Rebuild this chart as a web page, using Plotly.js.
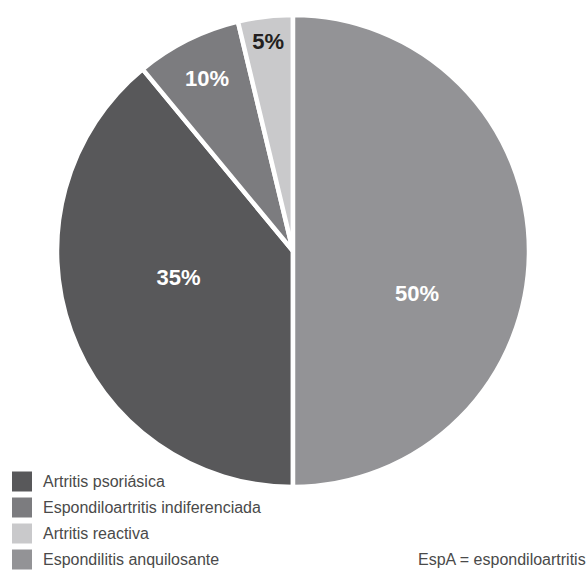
<!DOCTYPE html>
<html>
<head>
<meta charset="utf-8">
<script src="https://cdn.plot.ly/plotly-3.0.1.min.js"></script>
<style>html,body{margin:0;padding:0;background:#fff;}#chart{width:588px;height:578px;}</style>
</head>
<body>
<div id="chart"></div>
<script>
// Data
var categories = ["Artritis psoriásica", "Espondiloartritis indiferenciada", "Artritis reactiva", "Espondilitis anquilosante"];
var sliceValues = [39, 7.25, 3.75, 50];
var sliceLabels = ["35%", "10%", "5%", "50%"];
var sliceColors = ["#58585a", "#7c7c7f", "#c9c9cb", "#939396"];
var labelColors = ["#ffffff", "#ffffff", "#231f20", "#ffffff"];
var footnote = "EspA = espondiloartritis";

var W = 588, H = 578;
var cx = 293, cy = 251, R = 236;

// padding lines (styling only) to nudge label placement inside the large slices
var labelPadBefore = ["", "", "", "&nbsp;<br>&nbsp;<br>&nbsp;<br>&nbsp;&nbsp;"];
var labelPadAfter = ["<br>&nbsp;", "", "", ""];
var sliceText = sliceLabels.map(function (t, i) { return labelPadBefore[i] + t + labelPadAfter[i]; });

var trace = {
  type: "pie",
  labels: categories,
  values: sliceValues,
  text: sliceText,
  textinfo: "text",
  textposition: "inside",
  insidetextorientation: "horizontal",
  sort: false,
  direction: "clockwise",
  rotation: 180,
  hoverinfo: "none",
  marker: { colors: sliceColors, line: { color: "#ffffff", width: 4.5 } },
  textfont: { family: "Liberation Sans, Arial, sans-serif", size: 22, color: labelColors, weight: "bold" },
  insidetextfont: { family: "Liberation Sans, Arial, sans-serif", size: 22, color: labelColors, weight: "bold" },
  domain: { x: [(cx - R) / W, (cx + R) / W], y: [(H - cy - R) / H, (H - cy + R) / H] },
  showlegend: false
};

var shapes = [];
var annotations = [];
var legendTop = 481.5, legendStep = 26;
categories.forEach(function (c, i) {
  var yc = legendTop + i * legendStep;
  shapes.push({
    type: "rect", xref: "paper", yref: "paper",
    x0: 12 / W, x1: 32 / W, y0: 1 - (yc + 10) / H, y1: 1 - (yc - 10) / H,
    fillcolor: sliceColors[i], line: { width: 0 }
  });
  annotations.push({
    xref: "paper", yref: "paper", x: 41 / W, y: 1 - yc / H,
    xanchor: "left", yanchor: "middle", showarrow: false, text: c,
    font: { family: "Liberation Sans, Arial, sans-serif", size: 16, color: "#4a4a4a" }
  });
});
annotations.push({
  xref: "paper", yref: "paper", x: 588 / W, y: 1 - 559 / H,
  xanchor: "right", yanchor: "middle", showarrow: false, text: footnote,
  font: { family: "Liberation Sans, Arial, sans-serif", size: 16, color: "#4a4a4a" }
});

var layout = {
  width: W, height: H,
  margin: { l: 0, r: 0, t: 0, b: 0, pad: 0 },
  paper_bgcolor: "#ffffff", plot_bgcolor: "#ffffff",
  showlegend: false,
  shapes: shapes,
  annotations: annotations
};

Plotly.newPlot("chart", [trace], layout, { displayModeBar: false, staticPlot: true });
</script>
</body>
</html>
